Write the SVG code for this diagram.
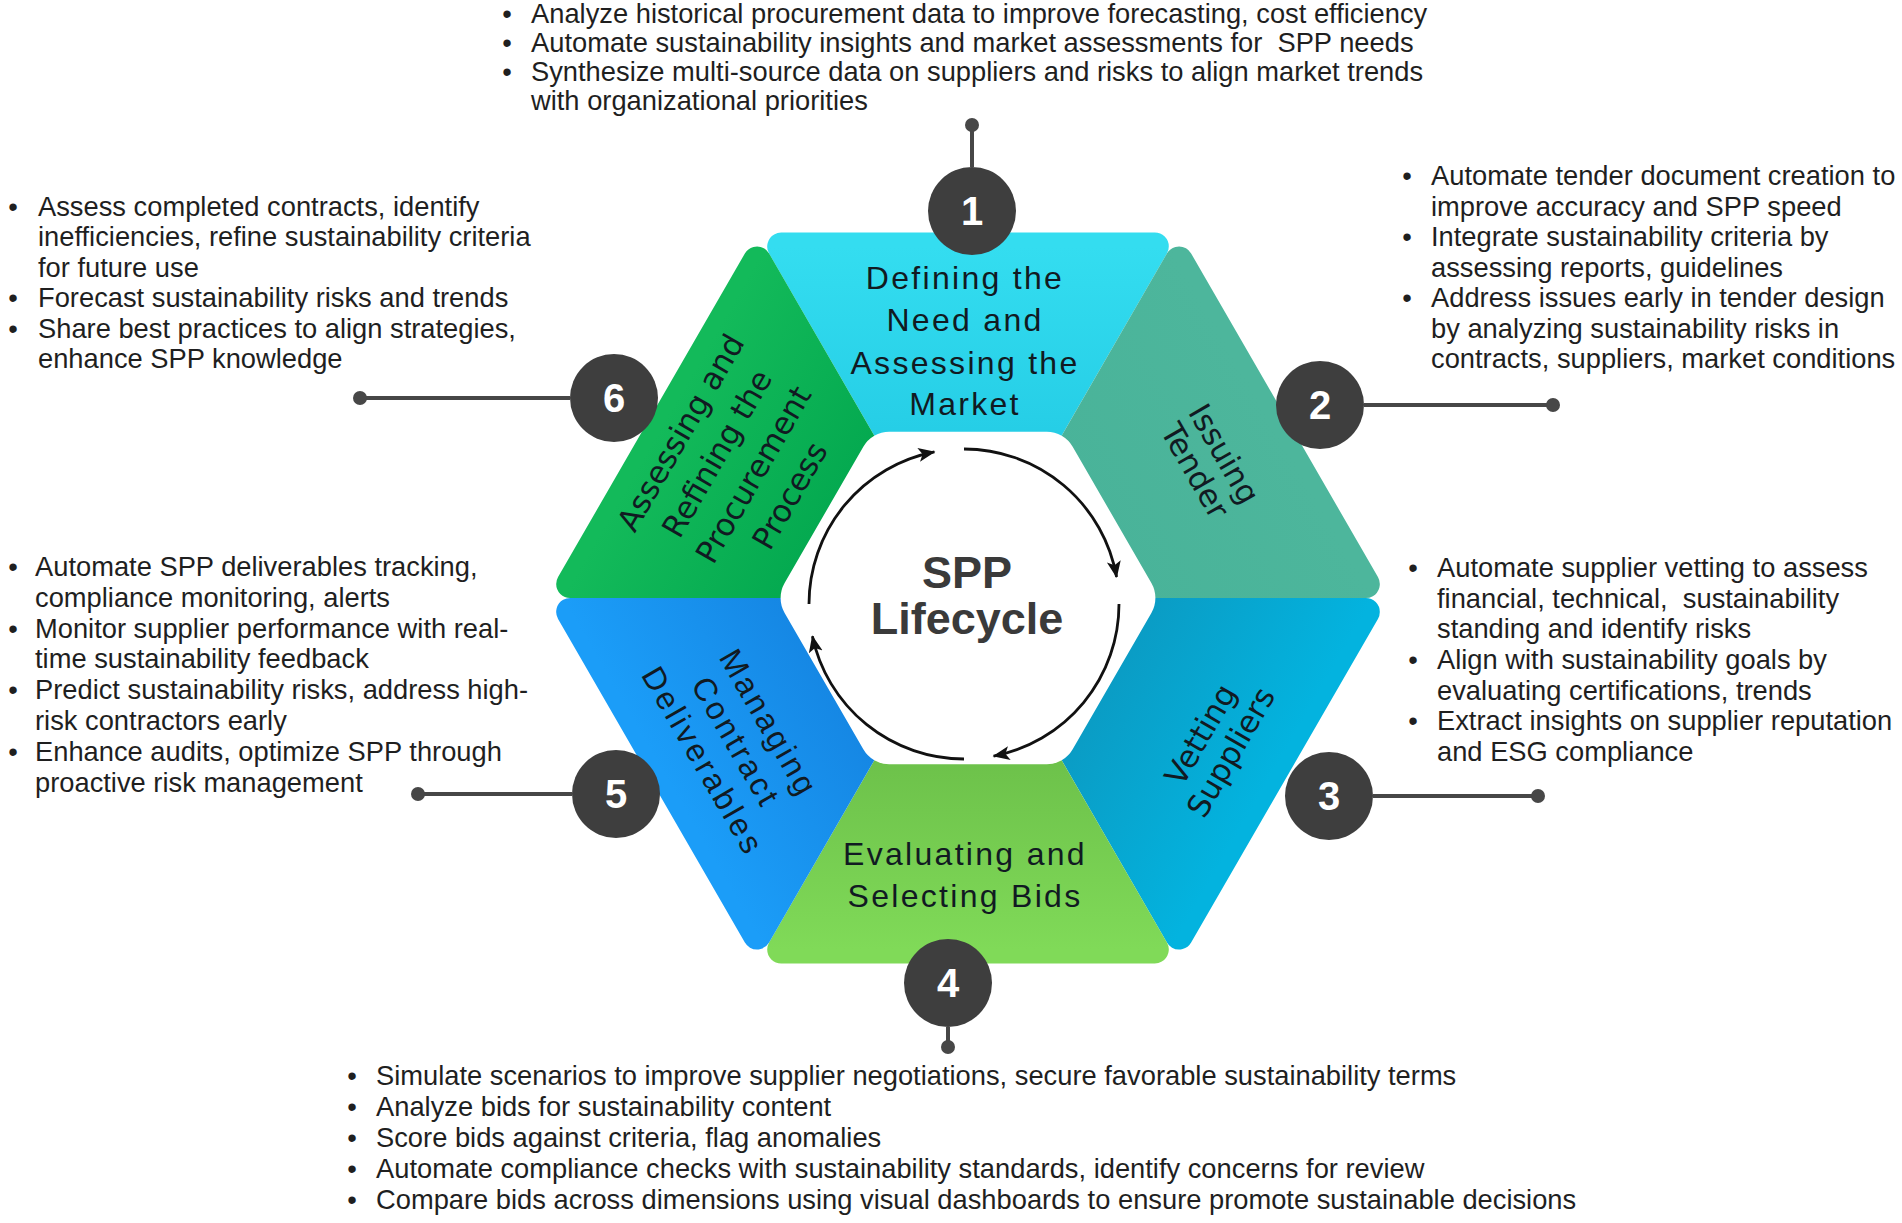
<svg xmlns="http://www.w3.org/2000/svg" xmlns:xlink="http://www.w3.org/1999/xlink" width="1902" height="1223" viewBox="0 0 1902 1223">
<style>
.b{font-family:"Liberation Sans",Arial,sans-serif;font-size:27.3px;fill:#1f1f1f}
.bu{font-family:"Liberation Sans",Arial,sans-serif;font-size:27.3px;fill:#1f1f1f;text-anchor:middle}
.lbl{font-family:"Liberation Sans",Arial,sans-serif;font-size:32px;letter-spacing:2.3px;fill:#111a22;text-anchor:middle}
.lbr{font-family:"DejaVu Sans",sans-serif;font-size:31px;fill:#111a22;text-anchor:middle}
.seg{stroke-width:28;stroke-linejoin:round}
.badge{fill:#3e3e3e}
.num{font-family:"Liberation Sans",Arial,sans-serif;font-weight:bold;font-size:40px;fill:#ffffff;text-anchor:middle}
.con{stroke:#474747;stroke-width:4;fill:none}
.dot{fill:#474747}
.arc{fill:none;stroke:#111111;stroke-width:2.8;marker-end:url(#ah)}
.title{font-family:"Liberation Sans",Arial,sans-serif;font-weight:bold;font-size:45px;fill:#3a3a3a;text-anchor:middle}
</style>
<defs>
<path id="segshape" d="M-186.8,-351.5 L186.8,-351.5 L66.9,-143.9 L-66.9,-143.9 Z"/>
<linearGradient id="g1" x1="0" y1="0" x2="0" y2="1"><stop offset="0" stop-color="#34DDF0"/><stop offset="1" stop-color="#24CCE5"/></linearGradient>
<linearGradient id="g2" x1="0" y1="0" x2="0" y2="1"><stop offset="0" stop-color="#4DB69C"/><stop offset="1" stop-color="#49B399"/></linearGradient>
<linearGradient id="g3" x1="0" y1="0" x2="0" y2="1"><stop offset="0" stop-color="#03B3DF"/><stop offset="1" stop-color="#0B9AC2"/></linearGradient>
<linearGradient id="g4" x1="0" y1="0" x2="0" y2="1"><stop offset="0" stop-color="#80DA58"/><stop offset="1" stop-color="#6BBF49"/></linearGradient>
<linearGradient id="g5" x1="0" y1="0" x2="0" y2="1"><stop offset="0" stop-color="#1B9DF8"/><stop offset="1" stop-color="#1585E2"/></linearGradient>
<linearGradient id="g6" x1="0" y1="0" x2="0" y2="1"><stop offset="0" stop-color="#13BA5A"/><stop offset="1" stop-color="#03A84F"/></linearGradient>
<marker id="ah" markerUnits="userSpaceOnUse" markerWidth="18" markerHeight="16" viewBox="0 0 18 16" refX="16" refY="8" orient="auto">
<path d="M0,1 L17,8 L0,15 L4,8 Z" fill="#111111"/>
</marker>
</defs>
<rect width="1902" height="1223" fill="#ffffff"/>

<g id="node-1-shape"><use xlink:href="#segshape" class="seg" fill="url(#g1)" stroke="url(#g1)" transform="translate(968,598)"/>
<text class="lbl"><tspan x="965" y="289">Defining the</tspan><tspan x="965" y="331">Need and</tspan><tspan x="965" y="374">Assessing the</tspan><tspan x="965" y="415">Market</tspan></text></g>
<g id="node-2-shape"><use xlink:href="#segshape" class="seg" fill="url(#g2)" stroke="url(#g2)" transform="translate(968,598) rotate(60)"/>
<text class="lbr" transform="translate(1210,462) rotate(60)"><tspan x="0" y="-5.5">Issuing</tspan><tspan x="0" y="28">Tender</tspan></text></g>
<g id="node-3-shape"><use xlink:href="#segshape" class="seg" fill="url(#g3)" stroke="url(#g3)" transform="translate(968,598) rotate(120)"/>
<text class="lbr" transform="translate(1215,743) rotate(-60)"><tspan x="0" y="-6">Vetting</tspan><tspan x="0" y="29">Suppliers</tspan></text></g>
<g id="node-4-shape"><use xlink:href="#segshape" class="seg" fill="url(#g4)" stroke="url(#g4)" transform="translate(968,598) rotate(180)"/>
<text class="lbl"><tspan x="965" y="865">Evaluating and</tspan><tspan x="965" y="907">Selecting Bids</tspan></text></g>
<g id="node-5-shape"><use xlink:href="#segshape" class="seg" fill="url(#g5)" stroke="url(#g5)" transform="translate(968,598) rotate(240)"/>
<text class="lbl" style="letter-spacing:3px" transform="translate(736,742) rotate(60)"><tspan x="0" y="-27">Managing</tspan><tspan x="0" y="11">Contract</tspan><tspan x="0" y="49">Deliverables</tspan></text></g>
<g id="node-6-shape"><use xlink:href="#segshape" class="seg" fill="url(#g6)" stroke="url(#g6)" transform="translate(968,598) rotate(300)"/>
<text class="lbr" transform="translate(735,464) rotate(-60)"><tspan x="0" y="-52">Assessing and</tspan><tspan x="0" y="-10">Refining the</tspan><tspan x="0" y="32">Procurement</tspan><tspan x="0" y="74">Process</tspan></text></g>

<g id="center">
<polygon points="157.4,0 78.7,136.3 -78.7,136.3 -157.4,0 -78.7,-136.3 78.7,-136.3" transform="translate(968,598)" fill="#ffffff" stroke="#ffffff" stroke-width="60" stroke-linejoin="round"/>
<path class="arc" d="M809,604 A155,155 0 0 1 934.4,451.9"/>
<path class="arc" d="M964,449 A155,155 0 0 1 1116.6,577.1"/>
<path class="arc" d="M1119,604 A155,155 0 0 1 993.6,756.1"/>
<path class="arc" d="M964,759 A155,155 0 0 1 812.4,636.2"/>
<text class="title"><tspan x="967" y="588">SPP</tspan><tspan x="967" y="634">Lifecycle</tspan></text>
</g>

<g id="connectors">
<line class="con" x1="972" y1="167" x2="972" y2="125"/><circle class="dot" cx="972" cy="125" r="7"/>
<line class="con" x1="1364" y1="405" x2="1553" y2="405"/><circle class="dot" cx="1553" cy="405" r="7"/>
<line class="con" x1="1373" y1="796" x2="1538" y2="796"/><circle class="dot" cx="1538" cy="796" r="7"/>
<line class="con" x1="948" y1="1027" x2="948" y2="1047"/><circle class="dot" cx="948" cy="1047" r="7"/>
<line class="con" x1="572" y1="794" x2="418" y2="794"/><circle class="dot" cx="418" cy="794" r="7"/>
<line class="con" x1="570" y1="398" x2="360" y2="398"/><circle class="dot" cx="360" cy="398" r="7"/>
</g>

<g id="badge-1"><circle class="badge" cx="972" cy="211" r="44"/><text class="num" x="972" y="225">1</text></g>
<g id="badge-2"><circle class="badge" cx="1320" cy="405" r="44"/><text class="num" x="1320" y="419">2</text></g>
<g id="badge-3"><circle class="badge" cx="1329" cy="796" r="44"/><text class="num" x="1329" y="810">3</text></g>
<g id="badge-4"><circle class="badge" cx="948" cy="983" r="44"/><text class="num" x="948" y="997">4</text></g>
<g id="badge-5"><circle class="badge" cx="616" cy="794" r="44"/><text class="num" x="616" y="808">5</text></g>
<g id="badge-6"><circle class="badge" cx="614" cy="398" r="44"/><text class="num" x="614" y="412">6</text></g>

<g id="text-1">
<text class="bu"><tspan x="507" y="23">•</tspan><tspan x="507" y="52">•</tspan><tspan x="507" y="81">•</tspan></text>
<text class="b"><tspan x="531" y="23">Analyze historical procurement data to improve forecasting, cost efficiency</tspan><tspan x="531" y="52">Automate sustainability insights and market assessments for&#160; SPP needs</tspan><tspan x="531" y="81">Synthesize multi-source data on suppliers and risks to align market trends</tspan><tspan x="531" y="110">with organizational priorities</tspan></text>
</g>
<g id="text-2">
<text class="bu"><tspan x="1407" y="185">•</tspan><tspan x="1407" y="246">•</tspan><tspan x="1407" y="307">•</tspan></text>
<text class="b"><tspan x="1431" y="185">Automate tender document creation to</tspan><tspan x="1431" y="215.5">improve accuracy and SPP speed</tspan><tspan x="1431" y="246">Integrate sustainability criteria by</tspan><tspan x="1431" y="276.5">assessing reports, guidelines</tspan><tspan x="1431" y="307">Address issues early in tender design</tspan><tspan x="1431" y="337.5">by analyzing sustainability risks in</tspan><tspan x="1431" y="368">contracts, suppliers, market conditions</tspan></text>
</g>
<g id="text-3">
<text class="bu"><tspan x="1413" y="577">•</tspan><tspan x="1413" y="669">•</tspan><tspan x="1413" y="730">•</tspan></text>
<text class="b"><tspan x="1437" y="577">Automate supplier vetting to assess</tspan><tspan x="1437" y="608">financial, technical,&#160; sustainability</tspan><tspan x="1437" y="638">standing and identify risks</tspan><tspan x="1437" y="669">Align with sustainability goals by</tspan><tspan x="1437" y="700">evaluating certifications, trends</tspan><tspan x="1437" y="730">Extract insights on supplier reputation</tspan><tspan x="1437" y="761">and ESG compliance</tspan></text>
</g>
<g id="text-4">
<text class="bu"><tspan x="352" y="1085">•</tspan><tspan x="352" y="1116">•</tspan><tspan x="352" y="1147">•</tspan><tspan x="352" y="1178">•</tspan><tspan x="352" y="1209">•</tspan></text>
<text class="b"><tspan x="376" y="1085">Simulate scenarios to improve supplier negotiations, secure favorable sustainability terms</tspan><tspan x="376" y="1116">Analyze bids for sustainability content</tspan><tspan x="376" y="1147">Score bids against criteria, flag anomalies</tspan><tspan x="376" y="1178">Automate compliance checks with sustainability standards, identify concerns for review</tspan><tspan x="376" y="1209">Compare bids across dimensions using visual dashboards to ensure promote sustainable decisions</tspan></text>
</g>
<g id="text-5">
<text class="bu"><tspan x="13" y="576">•</tspan><tspan x="13" y="638">•</tspan><tspan x="13" y="699">•</tspan><tspan x="13" y="761">•</tspan></text>
<text class="b"><tspan x="35" y="576">Automate SPP deliverables tracking,</tspan><tspan x="35" y="607">compliance monitoring, alerts</tspan><tspan x="35" y="638">Monitor supplier performance with real-</tspan><tspan x="35" y="668">time sustainability feedback</tspan><tspan x="35" y="699">Predict sustainability risks, address high-</tspan><tspan x="35" y="730">risk contractors early</tspan><tspan x="35" y="761">Enhance audits, optimize SPP through</tspan><tspan x="35" y="792">proactive risk management</tspan></text>
</g>
<g id="text-6">
<text class="bu"><tspan x="13" y="216">•</tspan><tspan x="13" y="307">•</tspan><tspan x="13" y="338">•</tspan></text>
<text class="b"><tspan x="38" y="216">Assess completed contracts, identify</tspan><tspan x="38" y="246">inefficiencies, refine sustainability criteria</tspan><tspan x="38" y="277">for future use</tspan><tspan x="38" y="307">Forecast sustainability risks and trends</tspan><tspan x="38" y="338">Share best practices to align strategies,</tspan><tspan x="38" y="368">enhance SPP knowledge</tspan></text>
</g>
</svg>
